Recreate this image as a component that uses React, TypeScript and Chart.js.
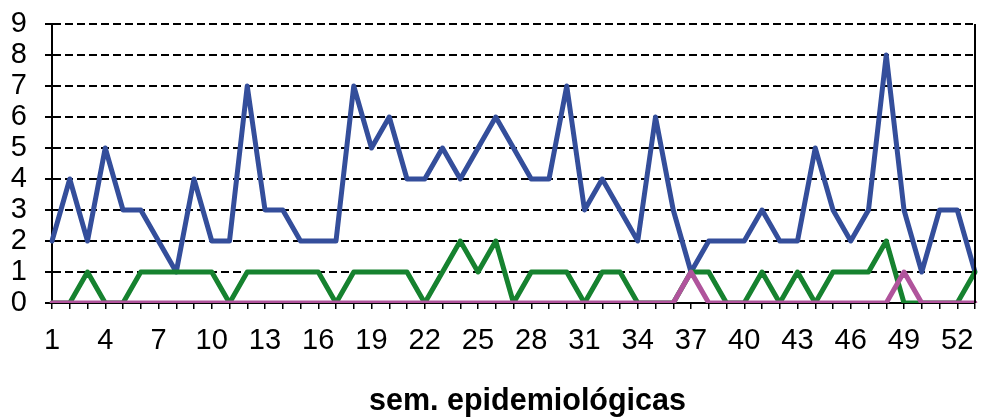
import React, { useEffect, useRef } from "react";
import { Chart, registerables } from "chart.js";

Chart.register(...registerables);

const weeks: string[] = Array.from({ length: 53 }, (_, i) => String(i + 1));

const seriesBlue: number[] = [
  2, 4, 2, 5, 3, 3, 2, 1, 4, 2, 2, 7, 3, 3, 2, 2, 2, 7, 5, 6, 4, 4, 5, 4, 5, 6,
  5, 4, 4, 7, 3, 4, 3, 2, 6, 3, 1, 2, 2, 2, 3, 2, 2, 5, 3, 2, 3, 8, 3, 1, 3, 3, 1,
];

const seriesGreen: number[] = [
  0, 0, 1, 0, 0, 1, 1, 1, 1, 1, 0, 1, 1, 1, 1, 1, 0, 1, 1, 1, 1, 0, 1, 2, 1, 2,
  0, 1, 1, 1, 0, 1, 1, 0, 0, 0, 1, 1, 0, 0, 1, 0, 1, 0, 1, 1, 1, 2, 0, 0, 0, 0, 1,
];

const seriesMagenta: number[] = [
  0, 0, 0, 0, 0, 0, 0, 0, 0, 0, 0, 0, 0, 0, 0, 0, 0, 0, 0, 0, 0, 0, 0, 0, 0, 0,
  0, 0, 0, 0, 0, 0, 0, 0, 0, 0, 1, 0, 0, 0, 0, 0, 0, 0, 0, 0, 0, 0, 1, 0, 0, 0, 0,
];

const xTitle = "sem. epidemiológicas";

const FONT = "'Liberation Sans', Arial, sans-serif";

const rightBorder = {
  id: "rightBorder",
  afterDraw(chart: any) {
    const { ctx, chartArea } = chart;
    ctx.save();
    ctx.strokeStyle = "#000";
    ctx.lineWidth = 2;
    ctx.beginPath();
    ctx.moveTo(chartArea.right, chartArea.top);
    ctx.lineTo(chartArea.right, chartArea.bottom);
    ctx.stroke();
    ctx.restore();
  },
};

const lineStyle = {
  borderWidth: 5,
  pointRadius: 0,
  tension: 0,
  borderJoinStyle: "round" as const,
  borderCapStyle: "round" as const,
};

export default function App() {
  const ref = useRef<HTMLCanvasElement | null>(null);

  useEffect(() => {
    document.body.style.margin = "0";
    if (!ref.current) return;
    const chart = new Chart(ref.current, {
      type: "line",
      data: {
        labels: weeks,
        datasets: [
          { data: seriesBlue, borderColor: "#344e9b", order: 3, ...lineStyle },
          { data: seriesGreen, borderColor: "#16822f", order: 2, ...lineStyle },
          { data: seriesMagenta, borderColor: "#b0549c", order: 1, ...lineStyle },
        ],
      },
      options: {
        responsive: false,
        animation: false,
        layout: { padding: { top: 24, right: 6, left: 0, bottom: 0 } },
        plugins: {
          legend: { display: false },
          tooltip: { enabled: false },
        },
        scales: {
          x: {
            offset: false,
            afterFit: (s: any) => {
              s.height = 114;
              s.paddingLeft = 0;
              s.paddingRight = 0;
            },
            grid: {
              display: true,
              drawOnChartArea: false,
              drawTicks: true,
              tickLength: 6,
              color: "#000",
              lineWidth: 1.5,
            },
            border: { display: true, color: "#000", width: 2 },
            ticks: {
              autoSkip: false,
              maxRotation: 0,
              minRotation: 0,
              padding: 15,
              color: "#000",
              font: { family: FONT, size: 29 },
              callback: (_v: any, i: number) => (i % 3 === 0 ? weeks[i] : ""),
            },
            title: { display: false },
          },
          y: {
            min: 0,
            max: 9,
            afterFit: (s: any) => {
              s.width = 52;
              s.paddingTop = 0;
              s.paddingBottom = 0;
            },
            grid: {
              display: true,
              color: "#000",
              lineWidth: 2,
              drawTicks: true,
              tickLength: 7,
              tickColor: "#000",
              tickBorderDash: [],
              tickWidth: 2,
            },
            border: { display: true, color: "#000", width: 2, dash: [8, 4] },
            ticks: {
              stepSize: 1,
              autoSkip: false,
              padding: 18,
              color: "#000",
              font: { family: FONT, size: 29 },
            },
          },
        },
      },
      plugins: [rightBorder],
    });
    return () => chart.destroy();
  }, []);

  return (
    <div style={{ position: "relative", width: 981, height: 417 }}>
      <canvas ref={ref} width={981} height={417} style={{ display: "block" }} />
      <div
        style={{
          position: "absolute",
          left: 0,
          width: 1055,
          top: 381,
          textAlign: "center",
          fontFamily: FONT,
          fontWeight: "bold",
          fontSize: 30.5,
          lineHeight: "36px",
          color: "#000",
          whiteSpace: "nowrap",
        }}
      >
        {xTitle}
      </div>
    </div>
  );
}
